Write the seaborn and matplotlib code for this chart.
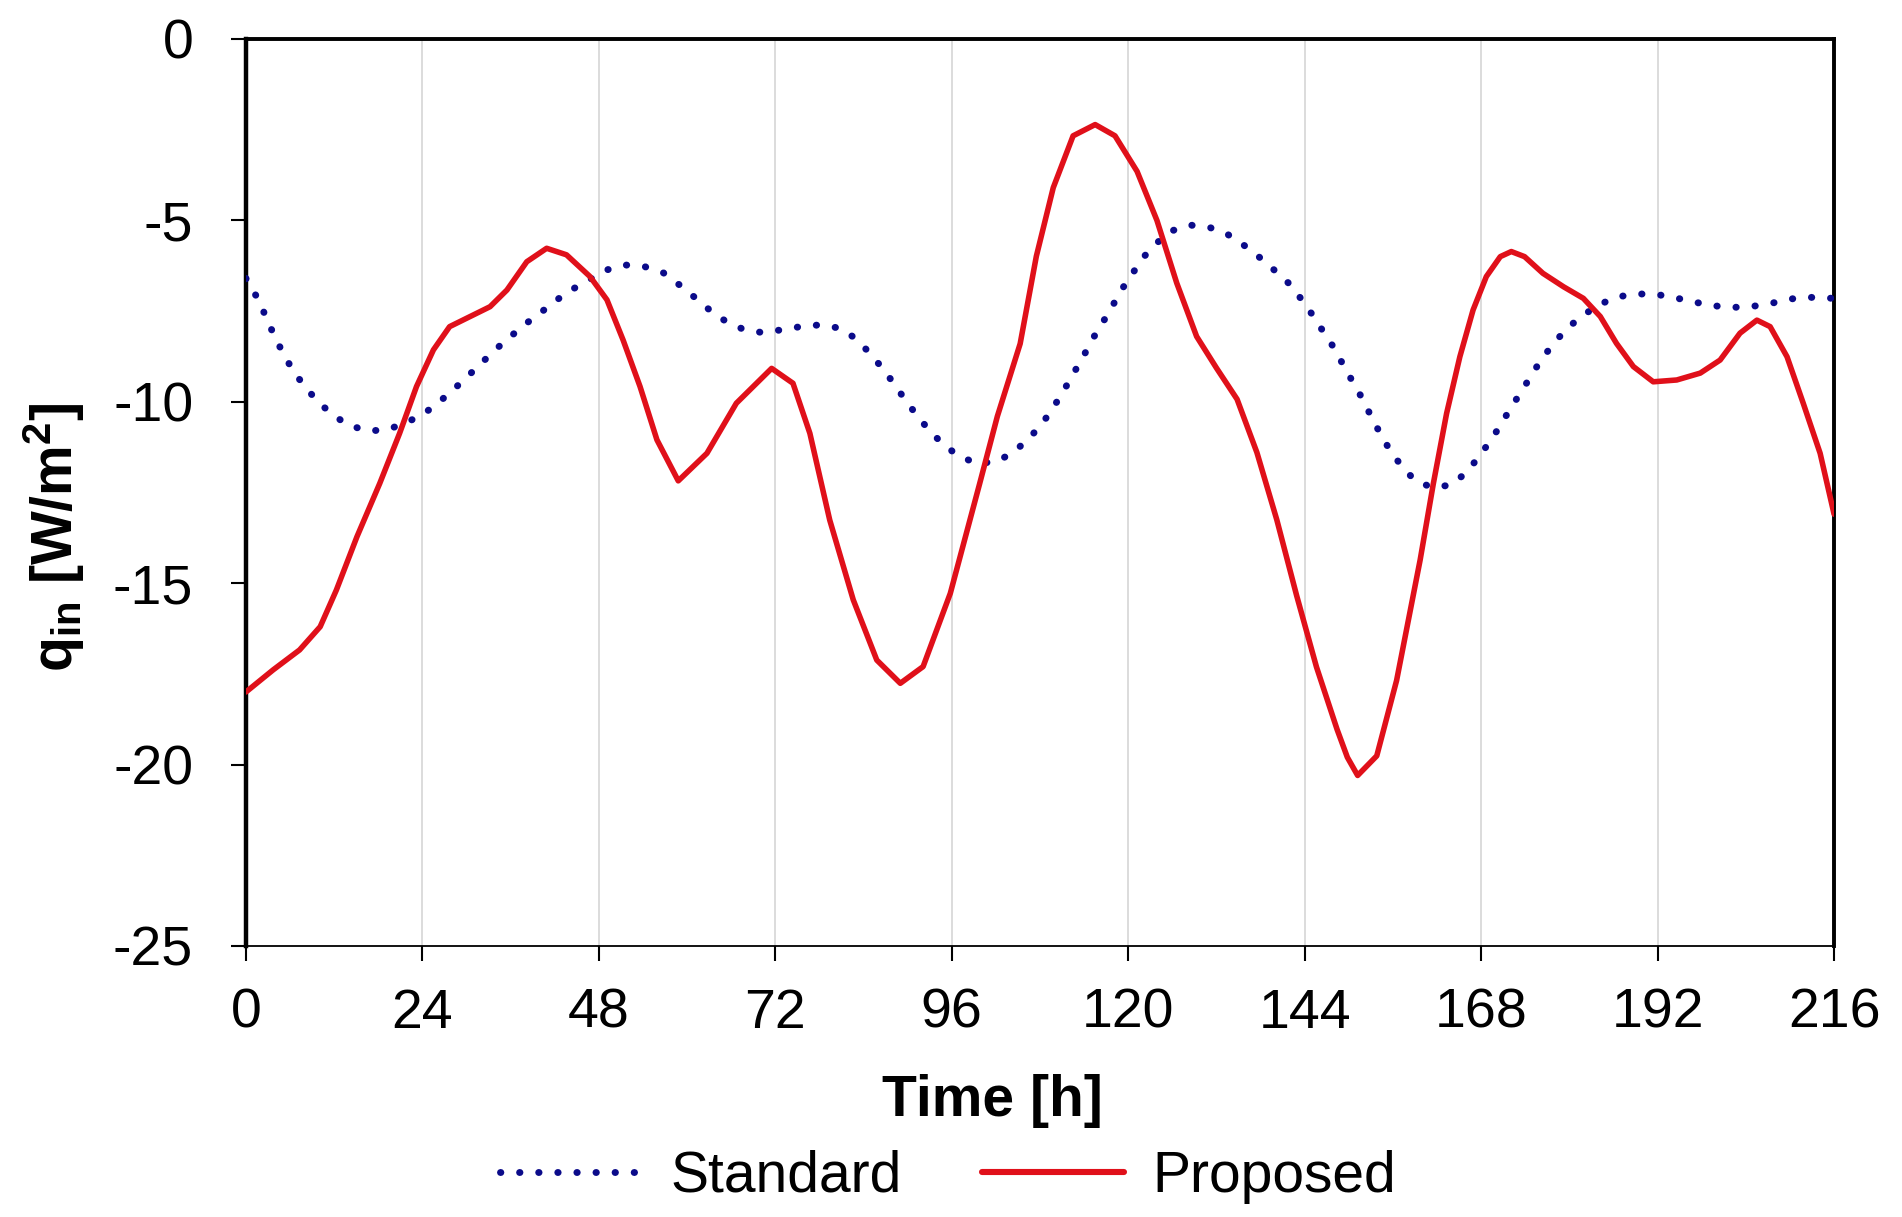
import numpy as np
import pandas as pd
import seaborn as sns
import matplotlib
matplotlib.use("Agg")
import matplotlib.pyplot as plt
from matplotlib.lines import Line2D

# Inner-surface heat flux q_in [W/m2] over time [h]
std_time = [0, 1.7, 2.8, 3.9, 5.1, 6.4, 8.0, 9.8, 11.8, 13.9, 16.5, 19.1, 21.6, 24.0, 26.2,
            28.2, 30.2, 32.1, 34.0, 36.0, 38.0, 40.1, 42.3, 44.4, 46.7, 49.0, 51.6, 54.3,
            56.8, 58.9, 60.9, 63.0, 65.1, 67.5, 70.1, 72.8, 75.4, 78.1, 80.7, 82.9, 84.8,
            86.5, 88.1, 89.6, 91.2, 92.9, 94.8, 96.9, 99.4, 102.1, 104.4, 106.4, 108.2,
            109.7, 111.1, 112.4, 113.8, 115.0, 116.4, 117.8, 119.1, 120.6, 122.0, 123.9,
            125.9, 128.4, 131.0, 133.4, 135.7, 137.8, 139.8, 141.8, 143.5, 145.0, 146.5,
            147.9, 149.2, 150.5, 151.8, 153.0, 154.2, 155.6, 157.2, 159.0, 161.3, 163.8,
            165.9, 167.6, 169.1, 170.6, 171.9, 173.4, 174.8, 176.2, 177.8, 179.6, 181.7,
            183.9, 186.3, 188.9, 191.5, 194.1, 196.7, 199.4, 202.0, 204.6, 207.2, 209.9,
            212.5, 216]
std_q = [-6.6, -7.19, -7.7, -8.2, -8.68, -9.14, -9.58, -10.0, -10.36, -10.64, -10.8, -10.78,
         -10.59, -10.36, -10.02, -9.67, -9.29, -8.92, -8.55, -8.2, -7.86, -7.54, -7.19, -6.9,
         -6.64, -6.37, -6.23, -6.28, -6.45, -6.77, -7.1, -7.46, -7.76, -7.99, -8.09, -8.02,
         -7.93, -7.88, -7.97, -8.25, -8.65, -9.06, -9.49, -9.93, -10.36, -10.78, -11.17,
         -11.49, -11.7, -11.65, -11.39, -11.03, -10.63, -10.19, -9.74, -9.27, -8.79, -8.32,
         -7.86, -7.38, -6.91, -6.46, -6.03, -5.62, -5.29, -5.13, -5.19, -5.37, -5.68, -6.01,
         -6.36, -6.73, -7.16, -7.59, -8.06, -8.49, -8.97, -9.44, -9.9, -10.39, -10.85,
         -11.34, -11.78, -12.17, -12.36, -12.3, -11.97, -11.54, -11.12, -10.66, -10.21,
         -9.74, -9.28, -8.83, -8.41, -7.99, -7.64, -7.34, -7.12, -7.03, -7.03, -7.12, -7.24,
         -7.35, -7.4, -7.38, -7.3, -7.17, -7.12, -7.15]

prop_time = [0, 3.7, 7.3, 10.1, 12.3, 15.1, 18.2, 20.9, 23.2, 25.5, 27.7, 30.5, 33.2, 35.5,
             38.2, 40.9, 43.6, 46.8, 49.1, 51.3, 53.6, 55.9, 58.8, 62.7, 66.7, 71.5, 74.4,
             76.7, 79.4, 82.6, 85.8, 89.0, 92.1, 95.8, 99.8, 102.2, 105.3, 107.5, 109.8,
             112.5, 115.5, 118.2, 121.2, 123.9, 126.6, 129.3, 132.0, 134.8, 137.5, 140.2,
             142.9, 145.6, 148.4, 149.8, 151.2, 153.8, 156.5, 159.7, 161.5, 163.3, 165.1,
             166.9, 168.7, 170.6, 172.1, 173.9, 176.4, 179.2, 181.9, 184.2, 186.4, 188.7,
             191.4, 194.6, 197.8, 200.5, 203.2, 205.5, 207.3, 209.6, 211.8, 214.1, 216]
prop_q = [-18.0, -17.39, -16.84, -16.2, -15.19, -13.72, -12.25, -10.87, -9.58, -8.57, -7.93,
          -7.65, -7.38, -6.92, -6.14, -5.77, -5.95, -6.55, -7.19, -8.3, -9.58, -11.05,
          -12.18, -11.42, -10.04, -9.08, -9.49, -10.87, -13.26, -15.46, -17.12, -17.76,
          -17.3, -15.28, -12.25, -10.4, -8.4, -5.99, -4.1, -2.67, -2.36, -2.67, -3.65, -5.0,
          -6.73, -8.2, -9.07, -9.93, -11.4, -13.25, -15.34, -17.31, -19.03, -19.8, -20.3,
          -19.76, -17.68, -14.36, -12.25, -10.32, -8.76, -7.47, -6.55, -6.0, -5.86, -6.0,
          -6.46, -6.83, -7.15, -7.65, -8.39, -9.03, -9.45, -9.4, -9.21, -8.85, -8.11, -7.75,
          -7.93, -8.76, -10.04, -11.42, -13.1]

x_ticks = [0, 24, 48, 72, 96, 120, 144, 168, 192, 216]
y_ticks = [0, -5, -10, -15, -20, -25]

std_df = pd.DataFrame({"Time": std_time, "q": std_q})
prop_df = pd.DataFrame({"Time": prop_time, "q": prop_q})

sns.set_theme(style="white")
plt.rcParams["font.family"] = ["Liberation Sans", "DejaVu Sans"]
plt.rcParams["mathtext.fontset"] = "custom"
plt.rcParams["mathtext.rm"] = "Liberation Sans:bold"
plt.rcParams["mathtext.default"] = "rm"
plt.rcParams["text.color"] = "black"
plt.rcParams["axes.labelcolor"] = "black"
plt.rcParams["xtick.color"] = "black"
plt.rcParams["ytick.color"] = "black"

fig = plt.figure(figsize=(19.02, 12.17), dpi=100)
ax = fig.add_axes([0.1293, 0.2227, 0.8350, 0.7453])

blue = "#0b0b8a"
red = "#e0101a"
dot_style = (0, (0.05, 2.7))

sns.lineplot(data=std_df, x="Time", y="q", ax=ax, color=blue, linewidth=5.0,
             estimator=None, sort=False, label="Standard")
sns.lineplot(data=prop_df, x="Time", y="q", ax=ax, color=red, linewidth=4.0,
             estimator=None, sort=False, label="Proposed")
std_line, prop_line = ax.lines[0], ax.lines[1]
std_line.set_linestyle(dot_style)
std_line.set_dash_capstyle("round")
std_line.set_zorder(3)
prop_line.set_zorder(4)
prop_line.set_solid_joinstyle("round")

ax.set_xlim(0, 216)
ax.set_ylim(-25, 0)
ax.set_xticks(x_ticks)
ax.set_yticks(y_ticks)
ax.set_xticklabels([str(t) for t in x_ticks], fontsize=40)
ax.set_yticklabels([str(t) for t in y_ticks], fontsize=40)
ax.xaxis.grid(True, color="#d6d6d6", linewidth=1.2)
ax.yaxis.grid(False)
ax.tick_params(axis="both", which="major", direction="out", length=11, width=1.5,
               color="black", bottom=True, left=True)
ax.tick_params(axis="x", pad=19)
ax.tick_params(axis="y", pad=27)

ax.spines["left"].set_linewidth(3.2)
ax.spines["top"].set_linewidth(2.8)
ax.spines["right"].set_linewidth(2.8)
ax.spines["bottom"].set_linewidth(1.3)
for sp in ax.spines.values():
    sp.set_color("black")
    sp.set_visible(True)

ax.set_xlabel("Time [h]", fontsize=41, fontweight="bold")
ax.set_ylabel(r"q$_{in}$ [W/m$^{2}$]", fontsize=41, fontweight="bold")
ax.xaxis.set_label_coords(0.470, -0.141)
ax.yaxis.set_label_coords(-0.100, 0.451)

ax.get_legend().remove()
handles = [
    Line2D([0], [0], color=blue, linewidth=5.0, linestyle=dot_style, dash_capstyle="round"),
    Line2D([0], [0], color=red, linewidth=4.4),
]
fig.legend(handles, ["Standard", "Proposed"], loc="center", bbox_to_anchor=(0.4984, 0.0329),
           ncol=2, frameon=False, fontsize=41, handlelength=2.5, handletextpad=0.5,
           columnspacing=1.4)

fig.savefig("out.png", dpi=100)
